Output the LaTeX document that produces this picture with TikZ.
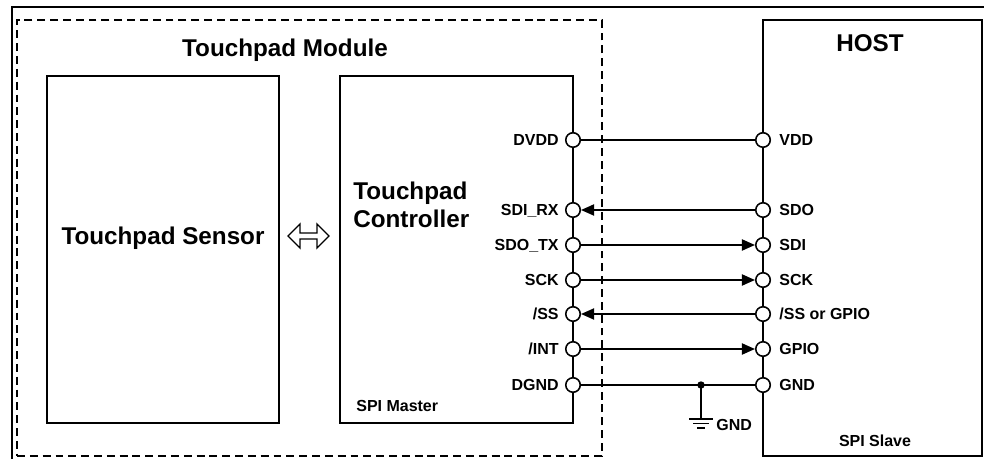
\documentclass[tikz,border=0pt]{standalone}
\usepackage{fontspec}
\setmainfont{Liberation Sans}
\usetikzlibrary{positioning}
\usetikzlibrary{arrows.meta}
\tikzstyle{wire} = [line width=0.95pt]
\tikzstyle{sigArrow} = [line width=0.95pt,-{Triangle[length=7.5pt,width=6.4pt]}]
\tikzstyle{blockBox} = [draw,line width=0.95pt,inner sep=0pt]
\tikzstyle{pinCircle} = [circle,draw,fill=white,inner sep=0pt,minimum size=0.29cm,line width=0.9pt]
\tikzstyle{pinText} = [font=\fontsize{9.1}{11}\selectfont\bfseries,inner sep=0pt,text height=6.5pt,text depth=0pt]
\tikzstyle{bigText} = [font=\fontsize{13.8}{16.4}\selectfont\bfseries,inner sep=0pt]

\begin{document}
\begin{tikzpicture}[x=0.02cm,y=-0.02cm]
	\useasboundingbox (0,0) rectangle (984,459);
	
	%Frame
	\draw[line width=1.4pt] (12,459) -- (12,7) -- (984,7);
	
	%Boxes
	\node [blockBox, dash pattern=on 4.5pt off 2.8pt, minimum width=11.7cm, minimum height=8.72cm] (module) at (309.5,238) {};
	\node [blockBox, minimum width=4.64cm, minimum height=6.94cm] (sensor) at (163,249.5) {};
	\node [blockBox, minimum width=4.66cm, minimum height=6.94cm] (ctrl) at (456.5,249.5) {};
	\node [blockBox, minimum width=4.38cm, minimum height=8.72cm] (host) at (872.5,238) {};
	
	%Titles
	\node [bigText, anchor=base] (moduleTitle) at (285,57) {Touchpad Module};
	\node [bigText, anchor=base] (hostTitle) at (870,52) {HOST};
	\node [bigText, anchor=base] (sensorTitle) at (163,245) {Touchpad Sensor};
	\node [bigText, anchor=base west, align=left] (ctrlTitle) at (353,228) {Touchpad\\Controller};
	\node [pinText, anchor=base west] (master) at (356,411) {SPI Master};
	\node [pinText, anchor=base] (slave) at (875,446) {SPI Slave};
	
	%Double arrow
	\draw[line width=0.75pt] (288,236) -- (300,224) -- (300,233) -- (317,233) -- (317,224) -- (329,236)
		-- (317,248) -- (317,239) -- (300,239) -- (300,248) -- cycle;
	
	%Controller pins
	\node [pinCircle] (cDVDD) at (573,140) {};
	\node [pinCircle] (cSDIRX) at (573,210) {};
	\node [pinCircle] (cSDOTX) at (573,245) {};
	\node [pinCircle] (cSCK) at (573,280) {};
	\node [pinCircle] (cSS) at (573,314) {};
	\node [pinCircle] (cINT) at (573,349) {};
	\node [pinCircle] (cDGND) at (573,385) {};
	
	\node [pinText, left=0.12cm of cDVDD] {DVDD};
	\node [pinText, left=0.12cm of cSDIRX] {SDI\_RX};
	\node [pinText, left=0.12cm of cSDOTX] {SDO\_TX};
	\node [pinText, left=0.12cm of cSCK] {SCK};
	\node [pinText, left=0.12cm of cSS] {/SS};
	\node [pinText, left=0.12cm of cINT] {/INT};
	\node [pinText, left=0.12cm of cDGND] {DGND};
	
	%Host pins
	\node [pinCircle] (hVDD) at (763,140) {};
	\node [pinCircle] (hSDO) at (763,210) {};
	\node [pinCircle] (hSDI) at (763,245) {};
	\node [pinCircle] (hSCK) at (763,280) {};
	\node [pinCircle] (hSS) at (763,314) {};
	\node [pinCircle] (hGPIO) at (763,349) {};
	\node [pinCircle] (hGND) at (763,385) {};
	
	\node [pinText, right=0.16cm of hVDD] {VDD};
	\node [pinText, right=0.16cm of hSDO] {SDO};
	\node [pinText, right=0.16cm of hSDI] {SDI};
	\node [pinText, right=0.16cm of hSCK] {SCK};
	\node [pinText, right=0.16cm of hSS] {/SS or GPIO};
	\node [pinText, right=0.16cm of hGPIO] {GPIO};
	\node [pinText, right=0.16cm of hGND] {GND};
	
	%Ground
	\coordinate (gndJoin) at (701,385);
	\coordinate (gndTop) at (701,419);
	\fill (gndJoin) circle (3.7);
	\draw[wire] (gndJoin) -- (gndTop);
	\draw[wire] (689,419) -- (713,419);
	\draw[wire] (693,423.5) -- (709,423.5);
	\draw[wire] (697,428) -- (705,428);
	\node [pinText, anchor=west] (gndText) at (716,424.5) {GND};
	
	%Wires
	\draw[wire] (cDVDD) -- (hVDD);
	\draw[sigArrow] (hSDO) -- (cSDIRX);
	\draw[sigArrow] (cSDOTX) -- (hSDI);
	\draw[sigArrow] (cSCK) -- (hSCK);
	\draw[sigArrow] (hSS) -- (cSS);
	\draw[sigArrow] (cINT) -- (hGPIO);
	\draw[wire] (cDGND) -- (hGND);
\end{tikzpicture}
\end{document}
